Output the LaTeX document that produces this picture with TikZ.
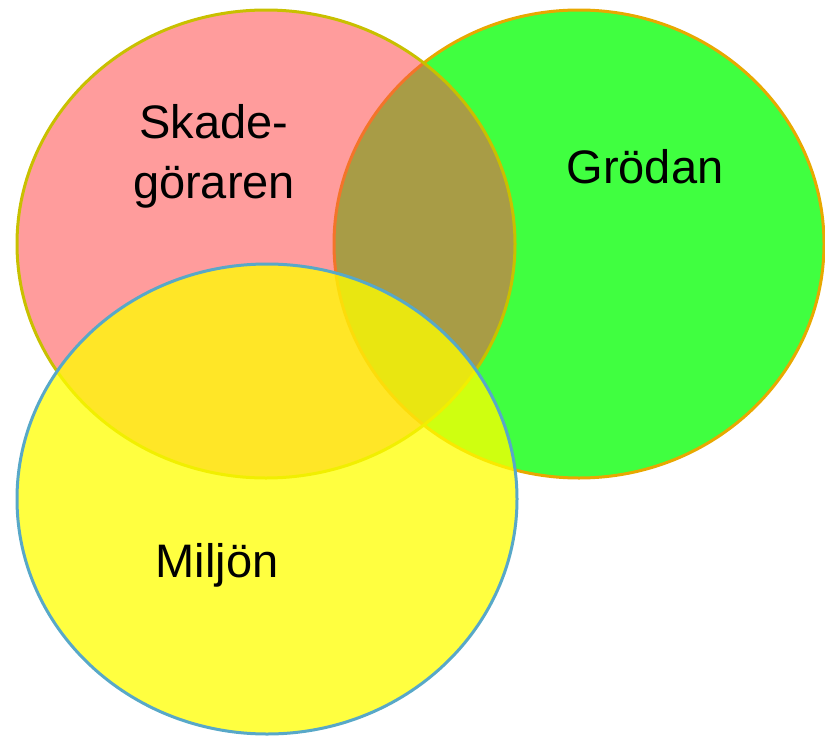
\documentclass[tikz,border=0pt]{standalone}
\usepackage{fontspec}
\setmainfont{Liberation Sans}
\definecolor{grfill}{RGB}{64,255,64}
\definecolor{grline}{RGB}{232,168,0}
\definecolor{rdfill}{RGB}{255,75,75}
\definecolor{rdline}{RGB}{200,192,0}
\definecolor{ylfill}{RGB}{255,255,0}
\definecolor{ylline}{RGB}{88,168,200}
\begin{document}
\begin{tikzpicture}[x=1pt,y=-1pt,
  lbl/.style={anchor=base,inner sep=0pt,font=\fontsize{47}{56}\selectfont,text=black},
  rim/.style={line width=3pt}]
\useasboundingbox (0,0) rectangle (825,736);
% green circle (bottom)
\fill[grfill] (579,244) ellipse [x radius=245, y radius=234];
\draw[grline,rim] (579,244) ellipse [x radius=245, y radius=234];
% red circle
\fill[rdfill,fill opacity=0.55] (266,244) ellipse [x radius=249, y radius=234];
\draw[rdline,rim] (266,244) ellipse [x radius=249, y radius=234];
% yellow circle (top)
\fill[ylfill,fill opacity=0.75] (267,499) ellipse [x radius=250, y radius=235];
\draw[ylline,rim] (267,499) ellipse [x radius=250, y radius=235];
% labels
\node[lbl] (skade) at (214,138) {Skade-};
\node[lbl] (gora) at (214,198) {göraren};
\node[lbl] (groda) at (645,183) {Grödan};
\node[lbl] (miljo) at (217,577) {Miljön};
\end{tikzpicture}
\end{document}
